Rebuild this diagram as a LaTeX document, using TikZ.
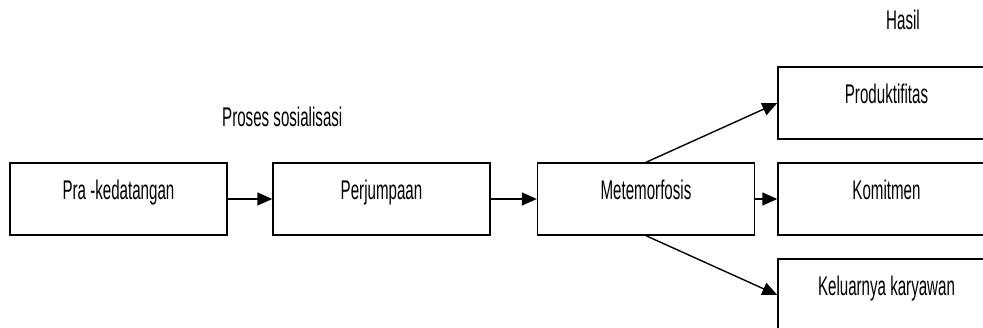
\documentclass[tikz,border=0pt]{standalone}
\usepackage{fontspec}
\setmainfont{Liberation Sans}[FakeStretch=0.56]
\usetikzlibrary{arrows.meta}
\begin{document}
\begin{tikzpicture}[x=1pt,y=1pt,
  stagebox/.style={draw=black, line width=1.4pt, minimum width=217pt, minimum height=72pt,
    inner sep=0pt, text height=12pt, text depth=10pt, font=\fontsize{27}{29}\selectfont},
  caption/.style={inner sep=0pt, anchor=base, font=\fontsize{27}{29}\selectfont},
  flow/.style={line width=1.4pt, -{Triangle[length=15pt,width=13pt]}}]
  \clip (0,0) rectangle (983,-328);
  \useasboundingbox (0,0) rectangle (983,-328);

  % main sequence
  \node[stagebox] (pra) at (118.5,-199) {Pra -kedatangan};
  \node[stagebox] (per) at (381.5,-199) {Perjumpaan};
  \node[stagebox] (met) at (646,-199) {Metemorfosis};

  % outcomes
  \node[stagebox] (pro) at (886.5,-103) {Produktifitas};
  \node[stagebox] (kom) at (886.5,-199) {Komitmen};
  \node[stagebox] (kel) at (886.5,-295) {Keluarnya karyawan};

  % headings
  \node[caption, anchor=base west] (proses) at (222,-127) {Proses sosialisasi};
  \node[caption] (hasil) at (903,-30) {Hasil};

  % connectors
  \draw[flow] (pra) -- (per);
  \draw[flow] (per) -- (met);
  \draw[flow] (met.north) -- (pro.west);
  \draw[flow] (met) -- (kom);
  \draw[flow] (met.south) -- (kel.west);
\end{tikzpicture}
\end{document}
